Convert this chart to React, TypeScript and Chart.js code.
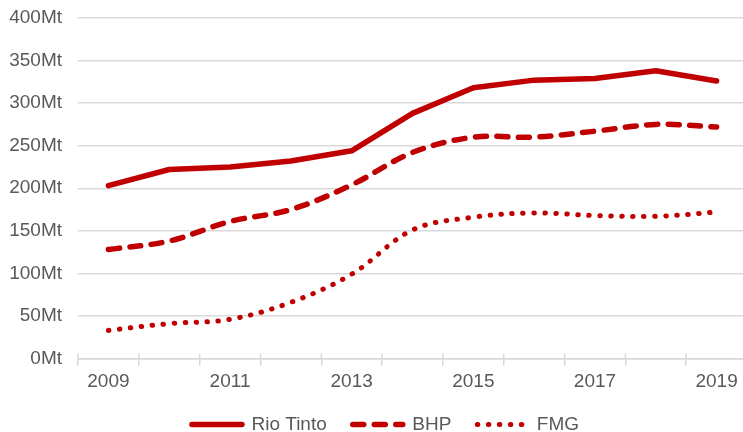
import React, { useEffect, useRef } from "react";
import { Chart, registerables } from "chart.js";

Chart.register(...registerables);

const years = ["2009", "2010", "2011", "2012", "2013", "2014", "2015", "2016", "2017", "2018", "2019"];
const rioTinto = [203, 222, 225, 232, 244, 288, 318, 327, 329, 338, 326];
const bhp = [128, 138, 161, 175, 204, 242, 260, 260, 267, 275, 272];
const fmg = [33, 41, 46, 66, 99, 151, 166, 171, 168, 167, 172];
const yTickSuffix = "Mt";

const RED = "#C00000";
const GRID = "#D9D9D9";
const TEXT = "#595959";
const FONT = "'Liberation Sans', Arial, sans-serif";

const crossTicks = {
  id: "crossTicks",
  afterLayout(chart: any) {
    if (chart.legend) chart.legend.left = 24;
  },
  afterDraw(chart: any) {
    const xs = chart.scales.x;
    const ctx = chart.ctx;
    const n = xs.ticks.length;
    const half = (xs.getPixelForValue(1) - xs.getPixelForValue(0)) / 2;
    ctx.save();
    ctx.strokeStyle = GRID;
    ctx.lineWidth = 1.5;
    ctx.beginPath();
    for (let i = 0; i <= n; i++) {
      const px = xs.getPixelForValue(i) - half;
      ctx.moveTo(px, xs.top - 5);
      ctx.lineTo(px, xs.top);
    }
    ctx.stroke();
    ctx.restore();
  },
};

export default function App() {
  const ref = useRef<HTMLCanvasElement | null>(null);

  useEffect(() => {
    if (!ref.current) return;
    const chart = new Chart(ref.current, {
      type: "line",
      data: {
        labels: years,
        datasets: [
          {
            label: "Rio Tinto",
            data: rioTinto,
            borderColor: RED,
            backgroundColor: RED,
            borderWidth: 5.5,
            borderCapStyle: "round",
            borderJoinStyle: "round",
            pointRadius: 0,
            tension: 0,
          },
          {
            label: "BHP",
            data: bhp,
            borderColor: RED,
            backgroundColor: RED,
            borderWidth: 5.5,
            borderDash: [11, 10.5],
            borderCapStyle: "round",
            borderJoinStyle: "round",
            pointRadius: 0,
            tension: 0.35,
          },
          {
            label: "FMG",
            data: fmg,
            borderColor: RED,
            backgroundColor: RED,
            borderWidth: 5,
            borderDash: [0.5, 10.5],
            borderCapStyle: "round",
            borderJoinStyle: "round",
            pointRadius: 0,
            tension: 0.35,
          },
        ],
      },
      options: {
        responsive: false,
        animation: false,
        devicePixelRatio: 1,
        layout: { padding: { top: 18, left: 0, right: 0, bottom: -12 } },
        plugins: {
          tooltip: { enabled: false },
          legend: {
            position: "bottom",
            labels: {
              usePointStyle: true,
              pointStyle: "line",
              pointStyleWidth: 50,
              boxHeight: 19,
              padding: 26,
              color: TEXT,
              font: { family: FONT, size: 19 },
              generateLabels: (ch: any) =>
                ch.data.datasets.map((ds: any, i: number) => ({
                  text: ds.label,
                  datasetIndex: i,
                  fillStyle: ds.borderColor,
                  strokeStyle: ds.borderColor,
                  fontColor: TEXT,
                  lineWidth: ds.borderWidth,
                  lineDash: ds.borderDash || [],
                  lineCap: "round",
                  lineJoin: "round",
                  pointStyle: "line",
                  hidden: false,
                })),
            },
          },
        },
        scales: {
          x: {
            offset: true,
            grid: {
              offset: true,
              drawOnChartArea: false,
              drawTicks: true,
              tickLength: 7,
              color: GRID,
              lineWidth: 1.5,
            },
            border: { display: true, color: GRID, width: 1.5 },
            ticks: {
              autoSkip: false,
              maxRotation: 0,
              padding: 5,
              color: TEXT,
              font: { family: FONT, size: 19 },
              callback: (_v: any, i: number) => (i % 2 === 0 ? years[i] : ""),
            },
            afterFit: (s: any) => {
              s.height = 30.5;
              s.paddingLeft = 0;
              s.paddingRight = 0;
            },
          },
          y: {
            min: 0,
            max: 400,
            grid: { color: GRID, lineWidth: 1.5, drawTicks: false },
            border: { display: false },
            ticks: {
              stepSize: 50,
              padding: 16,
              color: TEXT,
              font: { family: FONT, size: 19 },
              callback: (v: any) => v + yTickSuffix,
            },
            afterFit: (s: any) => {
              s.width = 78;
              s.paddingTop = 0;
              s.paddingBottom = 0;
            },
          },
        },
      },
      plugins: [crossTicks],
    });
    return () => chart.destroy();
  }, []);

  return (
    <div style={{ position: "fixed", left: 0, top: 0, width: 743, height: 432, overflow: "hidden", background: "#fff" }}>
      <canvas ref={ref} width={747} height={432} style={{ display: "block", width: 747, height: 432 }} />
    </div>
  );
}
